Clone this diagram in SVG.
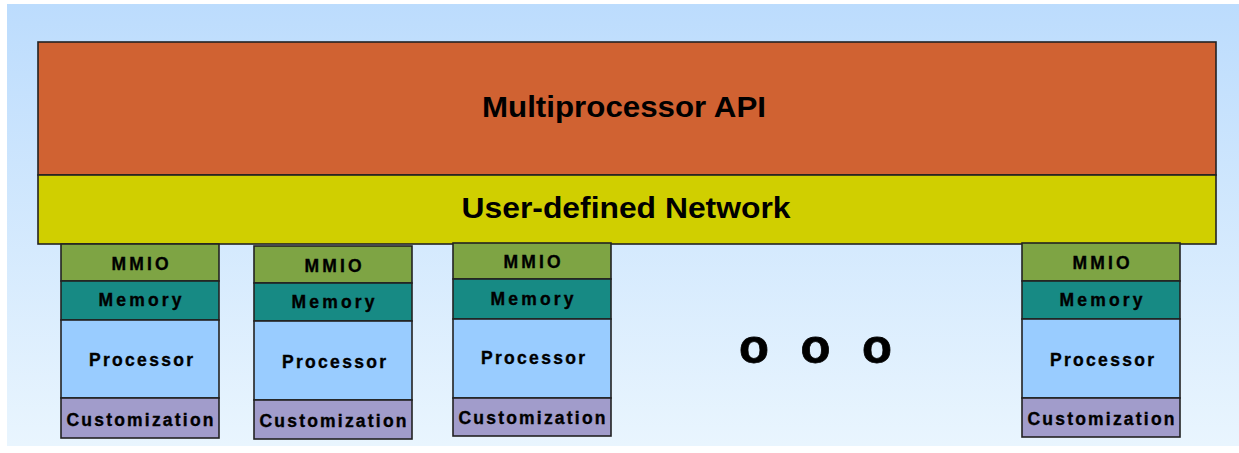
<svg xmlns="http://www.w3.org/2000/svg" width="1239" height="453" viewBox="0 0 1239 453">
  <defs>
    <linearGradient id="bg" x1="0" y1="0" x2="0" y2="1">
      <stop offset="0" stop-color="#bcdcfd"/>
      <stop offset="1" stop-color="#e9f5fe"/>
    </linearGradient>
  </defs>
  <style>
    .box { stroke: #222; stroke-width: 1.6; }
    .big { font-family: "Liberation Sans", Arial, sans-serif; font-weight: bold; font-size: 29px; fill: #000; text-anchor: middle; }
    .lbl { font-family: "Liberation Sans", Arial, sans-serif; font-weight: bold; font-size: 17.5px; fill: #000; text-anchor: middle; stroke: #000; stroke-width: 0.35; }
    .mmio { fill: #7ea444; }
    .mem { fill: #178a84; }
    .proc { fill: #99ccff; }
    .cust { fill: #a19ccb; }
  </style>

  <!-- backdrop -->
  <rect x="0" y="0" width="1239" height="453" fill="#ffffff"/>
  <rect x="7" y="4" width="1232" height="442" fill="url(#bg)"/>

  <!-- API layer -->
  <g id="api">
    <rect class="box" x="38" y="42" width="1178" height="133" fill="#d06232"/>
    <text class="big" x="624" y="117" textLength="284" lengthAdjust="spacingAndGlyphs">Multiprocessor API</text>
  </g>

  <!-- network layer -->
  <g id="network">
    <rect class="box" x="38" y="175" width="1178" height="69" fill="#d0cf00"/>
    <text class="big" x="626" y="218" textLength="329" lengthAdjust="spacingAndGlyphs">User-defined Network</text>
  </g>

  <!-- processing tile 1 -->
  <g id="tile1">
    <rect class="box mmio" x="61" y="244" width="158" height="37"/>
    <rect class="box mem" x="61" y="281" width="158" height="39"/>
    <rect class="box proc" x="61" y="320" width="158" height="78"/>
    <rect class="box cust" x="61" y="398" width="158" height="40"/>
    <text class="lbl" x="140" y="270" textLength="57" lengthAdjust="spacing">MMIO</text>
    <text class="lbl" x="140" y="306" textLength="83" lengthAdjust="spacing">Memory</text>
    <text class="lbl" x="141" y="366" textLength="104" lengthAdjust="spacing">Processor</text>
    <text class="lbl" x="140" y="426" textLength="147" lengthAdjust="spacing">Customization</text>
  </g>

  <!-- processing tile 2 -->
  <g id="tile2">
    <rect class="box mmio" x="254" y="246" width="158" height="37"/>
    <rect class="box mem" x="254" y="283" width="158" height="38"/>
    <rect class="box proc" x="254" y="321" width="158" height="79"/>
    <rect class="box cust" x="254" y="400" width="158" height="39"/>
    <text class="lbl" x="333" y="272" textLength="57" lengthAdjust="spacing">MMIO</text>
    <text class="lbl" x="333" y="308" textLength="83" lengthAdjust="spacing">Memory</text>
    <text class="lbl" x="334" y="368" textLength="104" lengthAdjust="spacing">Processor</text>
    <text class="lbl" x="333" y="427" textLength="147" lengthAdjust="spacing">Customization</text>
  </g>

  <!-- processing tile 3 -->
  <g id="tile3">
    <rect class="box mmio" x="453" y="243" width="158" height="36"/>
    <rect class="box mem" x="453" y="279" width="158" height="40"/>
    <rect class="box proc" x="453" y="319" width="158" height="79"/>
    <rect class="box cust" x="453" y="398" width="158" height="38"/>
    <text class="lbl" x="532" y="268" textLength="57" lengthAdjust="spacing">MMIO</text>
    <text class="lbl" x="532" y="305" textLength="83" lengthAdjust="spacing">Memory</text>
    <text class="lbl" x="533" y="364" textLength="104" lengthAdjust="spacing">Processor</text>
    <text class="lbl" x="532" y="424" textLength="147" lengthAdjust="spacing">Customization</text>
  </g>

  <!-- ellipsis between tiles -->
  <g id="ellipsis">
    <text x="739" y="363" font-family="Liberation Sans, Arial, sans-serif" font-weight="bold" font-size="49" fill="#000" stroke="#000" stroke-width="0.8" word-spacing="18">o o o</text>
  </g>

  <!-- processing tile N -->
  <g id="tileN">
    <rect class="box mmio" x="1022" y="243" width="158" height="38"/>
    <rect class="box mem" x="1022" y="281" width="158" height="38"/>
    <rect class="box proc" x="1022" y="319" width="158" height="79"/>
    <rect class="box cust" x="1022" y="398" width="158" height="39"/>
    <text class="lbl" x="1101" y="269" textLength="57" lengthAdjust="spacing">MMIO</text>
    <text class="lbl" x="1101" y="306" textLength="83" lengthAdjust="spacing">Memory</text>
    <text class="lbl" x="1102" y="366" textLength="104" lengthAdjust="spacing">Processor</text>
    <text class="lbl" x="1101" y="425" textLength="147" lengthAdjust="spacing">Customization</text>
  </g>

  <!-- no connectors: layers are stacked directly -->
  <g id="connectors"/>
</svg>
